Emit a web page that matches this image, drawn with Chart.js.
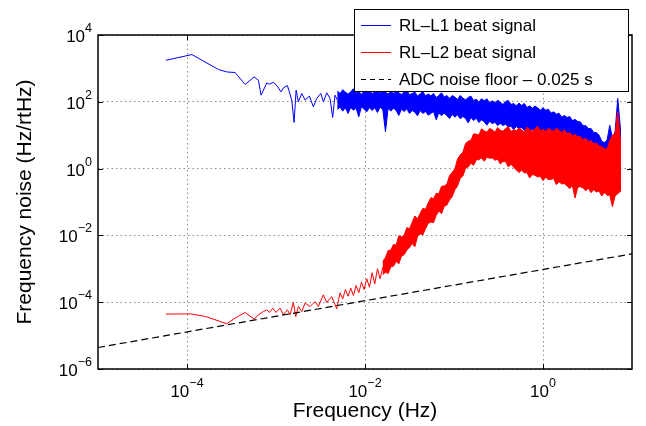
<!DOCTYPE html>
<html>
<head>
<meta charset="utf-8">
<script src="https://cdn.jsdelivr.net/npm/chart.js@4.4.0/dist/chart.umd.min.js"></script>
<style>
  html, body { margin: 0; padding: 0; background: #fff; }
  #graphContainer { width: 646px; height: 426px; }
</style>
</head>
<body>
<div id="graphContainer"><canvas id="myChart" width="646" height="426"></canvas></div>
<script>
// All values are log10: frequency in Hz, noise in Hz/rtHz

// RL-L1, low frequency part (single line)
var l1LowLogFreq = [-4.237, -3.945, -3.646, -3.552, -3.459, -3.347, -3.246, -3.198, -3.167, -3.104,
  -3.074, -3.029, -2.98, -2.943, -2.917, -2.872, -2.85, -2.823, -2.797, -2.774,
  -2.749, -2.71, -2.673, -2.625, -2.58, -2.542, -2.497, -2.468, -2.43, -2.393,
  -2.363, -2.337, -2.31];
var l1LowLogNoise = [3.244, 3.414, 2.966, 2.894, 2.876, 2.518, 2.745, 2.646, 2.198, 2.565,
  2.527, 2.586, 2.446, 2.297, 2.416, 2.488, 2.297, 2.05, 1.382, 2.347,
  2.0, 2.25, 2.05, 2.17, 1.85, 2.1, 2.25, 2.0, 2.27, 2.1,
  1.53, 2.2, 2.05];

// RL-L2, low frequency part (single line)
var l2LowLogFreq = [-4.237, -3.96, -3.79, -3.552, -3.459, -3.347, -3.246, -3.198, -3.142, -3.104,
  -3.074, -3.036, -2.999, -2.954, -2.917, -2.872, -2.842, -2.805, -2.778, -2.749,
  -2.71, -2.673, -2.617, -2.561, -2.524, -2.468, -2.43, -2.374, -2.318, -2.28,
  -2.25, -2.22, -2.19, -2.16, -2.13, -2.10, -2.07, -2.04, -2.01, -1.98,
  -1.95, -1.92, -1.89, -1.86, -1.83, -1.80];
var l2LowLogNoise = [-4.356, -4.35, -4.43, -4.646, -4.476, -4.308, -4.506, -4.377, -4.279, -4.228,
  -4.308, -4.177, -4.308, -4.177, -4.377, -4.228, -4.377, -4.01, -4.43, -4.13,
  -4.279, -4.028, -4.13, -3.98, -4.13, -3.78, -4.01, -3.83, -4.20, -3.72,
  -3.90, -3.62, -3.82, -3.58, -3.80, -3.50, -3.72, -3.40, -3.62, -3.30,
  -3.55, -3.12, -3.45, -3.00, -3.30, -2.95];

// frequency grid of the dense (band) part
var gridLogFreq = [-2.31, -2.28, -2.25, -2.22, -2.19, -2.16, -2.13, -2.10, -2.07, -2.04,
  -2.01, -1.98, -1.95, -1.92, -1.89, -1.86, -1.83, -1.80, -1.77, -1.74,
  -1.71, -1.68, -1.65, -1.62, -1.59, -1.56, -1.53, -1.50, -1.47, -1.44,
  -1.41, -1.38, -1.35, -1.32, -1.29, -1.26, -1.23, -1.20, -1.17, -1.14,
  -1.11, -1.08, -1.05, -1.02, -0.99, -0.96, -0.93, -0.90, -0.87, -0.84,
  -0.81, -0.78, -0.75, -0.72, -0.69, -0.66, -0.63, -0.60, -0.57, -0.54,
  -0.51, -0.48, -0.45, -0.42, -0.39, -0.36, -0.33, -0.30, -0.27, -0.24,
  -0.21, -0.18, -0.15, -0.12, -0.09, -0.06, -0.03, 0.00, 0.03, 0.06,
  0.09, 0.12, 0.15, 0.18, 0.21, 0.24, 0.27, 0.30, 0.33, 0.36,
  0.39, 0.42, 0.45, 0.48, 0.51, 0.54, 0.57, 0.60, 0.63, 0.66,
  0.69, 0.72, 0.75, 0.78, 0.81, 0.84, 0.87];

// RL-L1 band: upper and lower edge on the grid
var l1BandHigh = [2.32, 2.25, 2.36, 2.29, 2.23, 2.30, 2.39, 2.26, 2.31, 2.22,
  2.33, 2.28, 2.37, 2.24, 2.30, 2.34, 2.25, 2.41, 2.29, 2.23,
  2.32, 2.25, 2.34, 2.27, 2.22, 2.30, 2.35, 2.21, 2.25, 2.29,
  2.17, 2.24, 2.30, 2.18, 2.23, 2.18, 2.25, 2.13, 2.19, 2.27,
  2.14, 2.19, 2.10, 2.19, 2.14, 2.07, 2.19, 2.11, 2.06, 2.13,
  2.17, 2.04, 2.08, 2.00, 2.09, 2.03, 2.09, 1.97, 2.03, 1.97,
  2.05, 1.99, 1.92, 2.01, 2.04, 1.92, 1.95, 1.88, 1.96, 1.89,
  1.95, 1.83, 1.88, 1.81, 1.87, 1.82, 1.75, 1.82, 1.75, 1.78,
  1.66, 1.70, 1.63, 1.66, 1.54, 1.59, 1.53, 1.56, 1.44, 1.47,
  1.41, 1.40, 1.28, 1.29, 1.20, 1.20, 1.08, 1.08, 1.00, 0.82,
  0.78, 0.85, 1.30, 0.92, 1.10, 2.10, 1.20];
var l1BandLow = [1.77, 1.84, 1.72, 1.82, 1.65, 1.83, 1.75, 1.81, 1.55, 1.85,
  1.78, 1.70, 1.83, 1.74, 1.82, 1.68, 1.84, 1.77, 1.10, 1.81,
  1.72, 1.81, 1.74, 1.59, 1.78, 1.71, 1.79, 1.65, 1.74, 1.69,
  1.58, 1.74, 1.65, 1.71, 1.60, 1.65, 1.71, 1.46, 1.67, 1.58,
  1.66, 1.58, 1.50, 1.62, 1.54, 1.61, 1.49, 1.56, 1.50, 1.37,
  1.53, 1.44, 1.51, 1.38, 1.46, 1.40, 1.30, 1.42, 1.34, 1.39,
  1.29, 1.35, 1.29, 1.33, 1.24, 1.27, 1.17, 1.26, 1.19, 1.23,
  1.15, 1.20, 1.12, 1.17, 1.10, 1.14, 1.05, 1.11, 1.04, 1.07,
  0.98, 1.03, 0.95, 0.99, 0.90, 0.95, 0.87, 0.91, 0.83, 0.87,
  0.80, 0.83, 0.74, 0.77, 0.68, 0.71, 0.62, 0.65, 0.57, 0.55,
  0.52, 0.55, 0.62, 0.55, 0.62, 0.85, 0.90];

// RL-L2 band starts at grid index 17 (-1.80)
var l2BandStart = 17;
var l2BandHigh = [-2.78, -2.66, -2.45, -2.44, -2.27, -2.29, -2.01, -2.05, -1.99, -1.77,
  -1.80, -1.61, -1.42, -1.50, -1.34, -1.19, -1.22, -1.03, -0.87, -0.90,
  -0.74, -0.75, -0.53, -0.52, -0.47, -0.21, -0.11, -0.01, 0.29, 0.41,
  0.49, 0.75, 0.82, 0.85, 1.04, 1.03, 1.01, 1.19, 1.13, 1.09,
  1.20, 1.16, 1.09, 1.23, 1.15, 1.12, 1.20, 1.26, 1.11, 1.17,
  1.13, 1.21, 1.16, 1.10, 1.24, 1.17, 1.12, 1.19, 1.27, 1.13,
  1.18, 1.11, 1.21, 1.15, 1.12, 1.21, 1.15, 1.08, 1.16, 1.05,
  1.08, 0.98, 1.03, 0.95, 0.96, 0.86, 0.91, 0.81, 0.84, 0.74,
  0.77, 0.68, 0.66, 0.60, 0.58, 0.85, 1.00, 1.05, 1.70, 0.85];
var l2BandLow = [-3.18, -3.10, -3.14, -2.94, -2.92, -2.78, -2.85, -2.62, -2.58, -2.44,
  -2.36, -2.24, -2.34, -2.03, -1.96, -1.98, -1.80, -1.64, -1.60, -1.62,
  -1.40, -1.27, -1.35, -1.13, -1.09, -0.94, -0.84, -0.63, -0.52, -0.29,
  -0.22, 0.01, 0.05, 0.16, 0.10, 0.26, 0.27, 0.32, 0.22, 0.34,
  0.31, 0.32, 0.25, 0.28, 0.14, 0.21, 0.21, 0.05, 0.13, 0.04,
  -0.04, -0.12, -0.05, -0.13, -0.12, -0.28, -0.18, -0.20, -0.25, -0.23,
  -0.36, -0.26, -0.33, -0.32, -0.30, -0.48, -0.39, -0.46, -0.45, -0.52,
  -0.60, -0.50, -0.88, -0.56, -0.54, -0.58, -0.66, -0.59, -0.72, -0.63,
  -0.70, -0.67, -0.82, -0.72, -0.80, -0.79, -1.14, -0.82, -0.75, -0.68];

// ADC noise floor (straight line in log-log)
var floorFreq = [1e-5, 10];
var floorNoise = [4.4e-6, 2.8e-3];

var xTicks = [1e-4, 1e-2, 1];
var yTicks = [1e-6, 1e-4, 1e-2, 1, 1e2, 1e4];
var seriesLabels = ['RL\u2013L1 beat signal', 'RL\u2013L2 beat signal', 'ADC noise floor \u2013 0.025 s'];
var seriesColors = ['#0000ff', '#ff0000', '#000000'];

var fontFamily = '"Liberation Sans", Arial, Helvetica, sans-serif';
Chart.defaults.font.family = fontFamily;

function toPoints(logF, logN) {
  var pts = [];
  for (var i = 0; i < logF.length && i < logN.length; i++) {
    pts.push({ x: Math.pow(10, logF[i]), y: Math.pow(10, logN[i]) });
  }
  return pts;
}

// closed outline of a band: upper edge left to right, lower edge back
function bandOutline(logF, high, low) {
  return toPoints(logF.concat(logF.slice().reverse()), high.concat(low.slice().reverse()));
}

var l2Grid = gridLogFreq.slice(l2BandStart);

// draws "10" with a raised exponent
function drawPower(ctx, value, x, y, align) {
  var e = Math.round(Math.log10(value));
  var sup = e < 0 ? '\u2212' + (-e) : String(e);
  ctx.font = '17px ' + fontFamily;
  var wb = ctx.measureText('10').width;
  ctx.font = '12.5px ' + fontFamily;
  var ws = ctx.measureText(sup).width;
  var x0 = align === 'center' ? x - (wb + ws) / 2 : x - (wb + ws);
  ctx.font = '17px ' + fontFamily;
  ctx.fillText('10', x0, y);
  ctx.font = '12.5px ' + fontFamily;
  ctx.fillText(sup, x0 + wb, y - 10);
}

// box, inward ticks, tick labels and the boxed legend
var matlabAxes = {
  id: 'matlabAxes',
  afterDraw: function (chart) {
    var ctx = chart.ctx;
    var a = chart.chartArea;
    var xs = chart.scales.x;
    var ys = chart.scales.y;
    ctx.save();
    ctx.strokeStyle = '#000';
    ctx.lineWidth = 1;
    ctx.beginPath();
    xTicks.forEach(function (v) {
      var px = Math.round(xs.getPixelForValue(v)) + 0.5;
      ctx.moveTo(px, a.bottom); ctx.lineTo(px, a.bottom - 5);
      ctx.moveTo(px, a.top); ctx.lineTo(px, a.top + 5);
    });
    yTicks.forEach(function (v) {
      var py = Math.round(ys.getPixelForValue(v)) + 0.5;
      ctx.moveTo(a.left, py); ctx.lineTo(a.left + 5, py);
      ctx.moveTo(a.right, py); ctx.lineTo(a.right - 5, py);
    });
    ctx.stroke();
    ctx.lineWidth = 1.5;
    ctx.strokeRect(a.left, a.top, a.right - a.left, a.bottom - a.top);

    ctx.fillStyle = '#000';
    ctx.textAlign = 'left';
    ctx.textBaseline = 'alphabetic';
    xTicks.forEach(function (v) {
      drawPower(ctx, v, xs.getPixelForValue(v), a.bottom + 28, 'center');
    });
    yTicks.forEach(function (v) {
      drawPower(ctx, v, a.left - 6, ys.getPixelForValue(v) + 7, 'right');
    });

    // legend
    var lx = 354.5, ly = 9.5, lw = 274, lh = 82;
    ctx.fillStyle = '#fff';
    ctx.fillRect(lx, ly, lw, lh);
    ctx.strokeStyle = '#000';
    ctx.lineWidth = 1;
    ctx.strokeRect(lx, ly, lw, lh);
    var rows = [25, 52, 79];
    ctx.font = '17px ' + fontFamily;
    ctx.textBaseline = 'middle';
    seriesLabels.forEach(function (label, i) {
      ctx.strokeStyle = seriesColors[i];
      ctx.lineWidth = 1;
      ctx.setLineDash(i === 2 ? [5, 4] : []);
      ctx.beginPath();
      ctx.moveTo(361, rows[i] + 0.5);
      ctx.lineTo(391, rows[i] + 0.5);
      ctx.stroke();
      ctx.setLineDash([]);
      ctx.fillStyle = '#000';
      ctx.fillText(label, 399, rows[i] + 1);
    });
    ctx.restore();
  }
};

document.addEventListener('DOMContentLoaded', function () {
  var ctx = document.getElementById('myChart').getContext('2d');
  var myChart = new Chart(ctx, {
    type: 'line',
    data: {
      datasets: [
        { label: seriesLabels[0], data: toPoints(l1LowLogFreq, l1LowLogNoise), borderColor: '#0000ff', borderWidth: 1, order: 3 },
        { label: 'l1 band', data: bandOutline(gridLogFreq, l1BandHigh, l1BandLow), borderColor: '#0000ff', borderWidth: 1, order: 3,
          fill: 'shape', backgroundColor: '#0000ff' },
        { label: seriesLabels[1], data: toPoints(l2LowLogFreq, l2LowLogNoise), borderColor: '#ff0000', borderWidth: 1, order: 2 },
        { label: 'l2 band', data: bandOutline(l2Grid, l2BandHigh, l2BandLow), borderColor: '#ff0000', borderWidth: 1, order: 2,
          fill: 'shape', backgroundColor: '#ff0000' },
        { label: seriesLabels[2], data: floorFreq.map(function (f, i) { return { x: f, y: floorNoise[i] }; }),
          borderColor: '#000000', borderWidth: 1.2, borderDash: [7, 4], order: 1 }
      ]
    },
    options: {
      responsive: false,
      animation: false,
      elements: { point: { radius: 0 }, line: { tension: 0 } },
      layout: { padding: { top: 35, right: 14, bottom: 0, left: 0 } },
      plugins: { legend: { display: false }, tooltip: { enabled: false } },
      scales: {
        x: {
          type: 'logarithmic',
          min: 1e-5,
          max: 10,
          afterBuildTicks: function (scale) { scale.ticks = xTicks.map(function (v) { return { value: v }; }); },
          afterFit: function (scale) { scale.height = 57; },
          ticks: { display: false },
          grid: { color: '#8c8c8c', lineWidth: 1, drawTicks: false },
          border: { display: false, dash: [1.5, 3] },
          title: { display: true, text: 'Frequency (Hz)', color: '#000', font: { size: 21 }, padding: { top: 0, bottom: 2 } }
        },
        y: {
          type: 'logarithmic',
          min: 1e-6,
          max: 1e4,
          afterBuildTicks: function (scale) { scale.ticks = yTicks.map(function (v) { return { value: v }; }); },
          afterFit: function (scale) { scale.width = 98; },
          ticks: { display: false },
          grid: { color: '#8c8c8c', lineWidth: 1, drawTicks: false },
          border: { display: false, dash: [1.5, 3] },
          title: { display: true, text: 'Frequency noise (Hz/rtHz)', color: '#000', font: { size: 21 }, padding: { top: 13, bottom: 0 } }
        }
      }
    },
    plugins: [matlabAxes]
  });
});
</script>
</body>
</html>
